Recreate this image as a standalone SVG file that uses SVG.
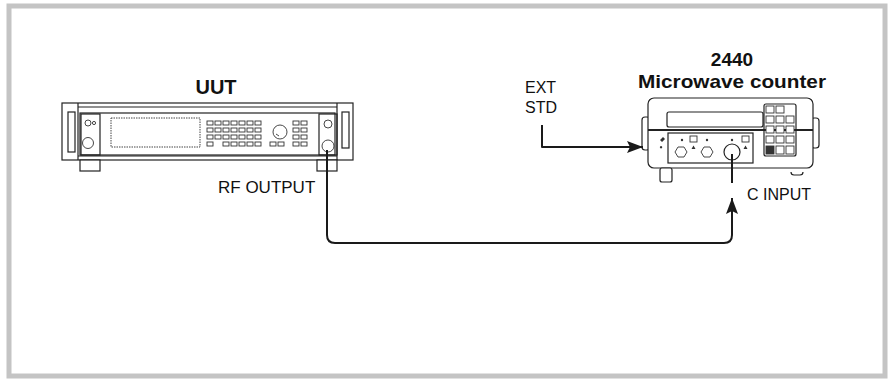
<svg xmlns="http://www.w3.org/2000/svg" width="891" height="379" viewBox="0 0 891 379">
<defs>
<style>
.frame{fill:none;stroke:#c4c4c4;stroke-width:5}
.ln{fill:none;stroke:#222;stroke-width:1.2}
.lw{fill:#fff;stroke:#222;stroke-width:1.2}
.thin{fill:none;stroke:#333;stroke-width:0.9}
.btn{fill:none;stroke:#333;stroke-width:0.9}
.conn{fill:none;stroke:#1a1a1a;stroke-width:2;stroke-linejoin:round}
.title{font-family:"Liberation Sans",Arial,sans-serif;font-weight:bold;font-size:19px;fill:#111}
.lab{font-family:"Liberation Sans",Arial,sans-serif;font-size:16px;fill:#111}
</style>
<marker id="arr" viewBox="0 0 16 12" refX="16" refY="6" markerWidth="16" markerHeight="12" markerUnits="userSpaceOnUse" orient="auto">
<path d="M0,0 L16,6 L0,12 L3,6 z" fill="#1a1a1a"/>
</marker>
</defs>
<rect x="0" y="0" width="891" height="379" fill="#fff"/>
<rect class="frame" x="9" y="6" width="876" height="370"/>

<g id="uut">
<text class="title" x="216" y="94" text-anchor="middle" style="font-size:20px">UUT</text>
<rect class="lw" x="62" y="103" width="291" height="57"/>
<line class="ln" x1="78" y1="107" x2="337" y2="107"/>
<line class="ln" x1="78" y1="103" x2="78" y2="160"/>
<line class="ln" x1="337" y1="103" x2="337" y2="160"/>
<line class="ln" x1="78" y1="156" x2="337" y2="156"/>
<rect class="ln" x="68" y="112" width="7" height="40"/>
<rect class="ln" x="342" y="112" width="7" height="36"/>
<rect class="ln" x="80" y="113" width="255" height="42"/>
<rect class="ln" x="81" y="114" width="19" height="41"/>
<circle class="thin" cx="88" cy="123" r="3"/>
<circle class="thin" cx="94" cy="123" r="1.6"/>
<circle class="thin" cx="88" cy="143" r="5.5"/>
<rect x="111" y="118" width="89" height="29" fill="none" stroke="#444" stroke-width="1" stroke-dasharray="1.5,1"/>
<g class="btn">
<rect x="207" y="121" width="6" height="4"/><rect x="215" y="121" width="6" height="4"/><rect x="223" y="121" width="6" height="4"/><rect x="231" y="121" width="6" height="4"/><rect x="239" y="121" width="6" height="4"/><rect x="247" y="121" width="6" height="4"/><rect x="255" y="121" width="6" height="4"/>
<rect x="207" y="128" width="6" height="4"/><rect x="215" y="128" width="6" height="4"/><rect x="223" y="128" width="6" height="4"/><rect x="231" y="128" width="6" height="4"/><rect x="239" y="128" width="6" height="4"/><rect x="247" y="128" width="6" height="4"/><rect x="255" y="128" width="6" height="4"/>
<rect x="207" y="135" width="6" height="4"/><rect x="215" y="135" width="6" height="4"/><rect x="223" y="135" width="6" height="4"/><rect x="231" y="135" width="6" height="4"/><rect x="239" y="135" width="6" height="4"/><rect x="247" y="135" width="6" height="4"/><rect x="255" y="135" width="6" height="4"/>
<rect x="207" y="142" width="6" height="4"/><rect x="223" y="142" width="6" height="4"/><rect x="231" y="142" width="6" height="4"/><rect x="239" y="142" width="6" height="4"/><rect x="247" y="142" width="6" height="4"/><rect x="255" y="142" width="6" height="4"/>
<rect x="270" y="142" width="6" height="4"/><rect x="278" y="142" width="6" height="4"/>
<rect x="293" y="121" width="6" height="4"/><rect x="301" y="121" width="6" height="4"/>
<rect x="293" y="128" width="6" height="4"/><rect x="301" y="128" width="6" height="4"/>
<rect x="293" y="135" width="6" height="4"/><rect x="301" y="135" width="6" height="4"/>
<rect x="293" y="142" width="6" height="4"/><rect x="301" y="142" width="6" height="4"/>
</g>
<circle class="thin" cx="280" cy="132" r="7"/>
<path class="thin" d="M276,134 l3,2"/>
<rect class="ln" x="319" y="114" width="18" height="41"/>
<circle class="thin" cx="328" cy="124" r="4"/>
<circle class="thin" cx="328" cy="146" r="6"/>
<rect class="lw" x="80" y="160" width="20" height="11"/>
<rect class="lw" x="317" y="160" width="20" height="11"/>
<text class="lab" x="218" y="193" style="font-size:17px">RF OUTPUT</text>
</g>

<g id="counter">
<text class="title" x="732" y="66" text-anchor="middle">2440</text>
<text class="title" x="732" y="88" text-anchor="middle" textLength="188" lengthAdjust="spacingAndGlyphs">Microwave counter</text>
<rect class="lw" x="642" y="117" width="8" height="33" rx="3"/>
<rect class="lw" x="811" y="118" width="8" height="30" rx="3"/>
<rect class="lw" x="648" y="98" width="165" height="70" rx="6"/>
<rect class="ln" x="667" y="112" width="96" height="15" rx="2"/>
<line x1="648" y1="130" x2="813" y2="130" stroke="#222" stroke-width="2"/>
<g class="btn">
<rect x="766" y="106" width="8" height="7" fill="#fff"/><rect x="776" y="106" width="8" height="7" fill="#fff"/>
<rect x="766" y="116" width="8" height="7" fill="#fff"/><rect x="776" y="116" width="8" height="7" fill="#fff"/><rect x="786" y="116" width="8" height="7" fill="#fff"/>
<rect x="766" y="126" width="8" height="7" fill="#fff"/><rect x="776" y="126" width="8" height="7" fill="#fff"/><rect x="786" y="126" width="8" height="7" fill="#fff"/>
<rect x="766" y="136" width="8" height="7" fill="#fff"/><rect x="776" y="136" width="8" height="7" fill="#fff"/><rect x="786" y="136" width="8" height="7" fill="#fff"/>
<rect x="766" y="146" width="8" height="8" fill="#333"/><rect x="776" y="146" width="8" height="8" fill="#fff"/><rect x="786" y="146" width="8" height="8" fill="#fff"/>
</g>
<rect class="ln" x="764" y="104" width="32" height="52" rx="2"/>
<rect class="ln" x="668" y="133" width="85" height="30"/>
<path d="M660,140 l3,-3 l2,2 l-3,3 z M661,146 a1.2,1.2 0 1,0 0.1,0" fill="#333"/>
<polygon class="thin" points="675,152 678,147 684,147 687,152 684,157 678,157"/>
<polygon class="thin" points="701,152 704,147 710,147 713,152 710,157 704,157"/>
<rect class="thin" x="690" y="136" width="7" height="6"/>
<rect class="thin" x="742" y="136" width="7" height="6"/>
<path d="M691.5,149 l2,-3.5 l2,3.5 z M743.5,149 l2,-3.5 l2,3.5 z" fill="#333"/>
<circle cx="682" cy="140" r="1.2" fill="#333"/>
<circle cx="707" cy="140" r="1.2" fill="#333"/>
<circle cx="732" cy="140" r="1.2" fill="#333"/>
<circle class="lw" cx="732" cy="152" r="8"/>
<rect class="lw" x="660" y="168" width="12" height="14" rx="2"/>
<path class="ln" d="M791,172 q0,3 3,3 h6 q3,0 3,-3"/>
<text class="lab" x="525" y="93">EXT</text>
<text class="lab" x="525" y="113">STD</text>
<text class="lab" x="747" y="200">C INPUT</text>
</g>

<g id="connectors">
<path class="conn" d="M542,125 V147 H643" marker-end="url(#arr)"/>
<path class="conn" d="M327,150 V235 Q327,243 335,243 H724 Q732,243 732,235 V198" marker-end="url(#arr)"/>
<path class="conn" d="M732,154 V183"/>
</g>
</svg>
